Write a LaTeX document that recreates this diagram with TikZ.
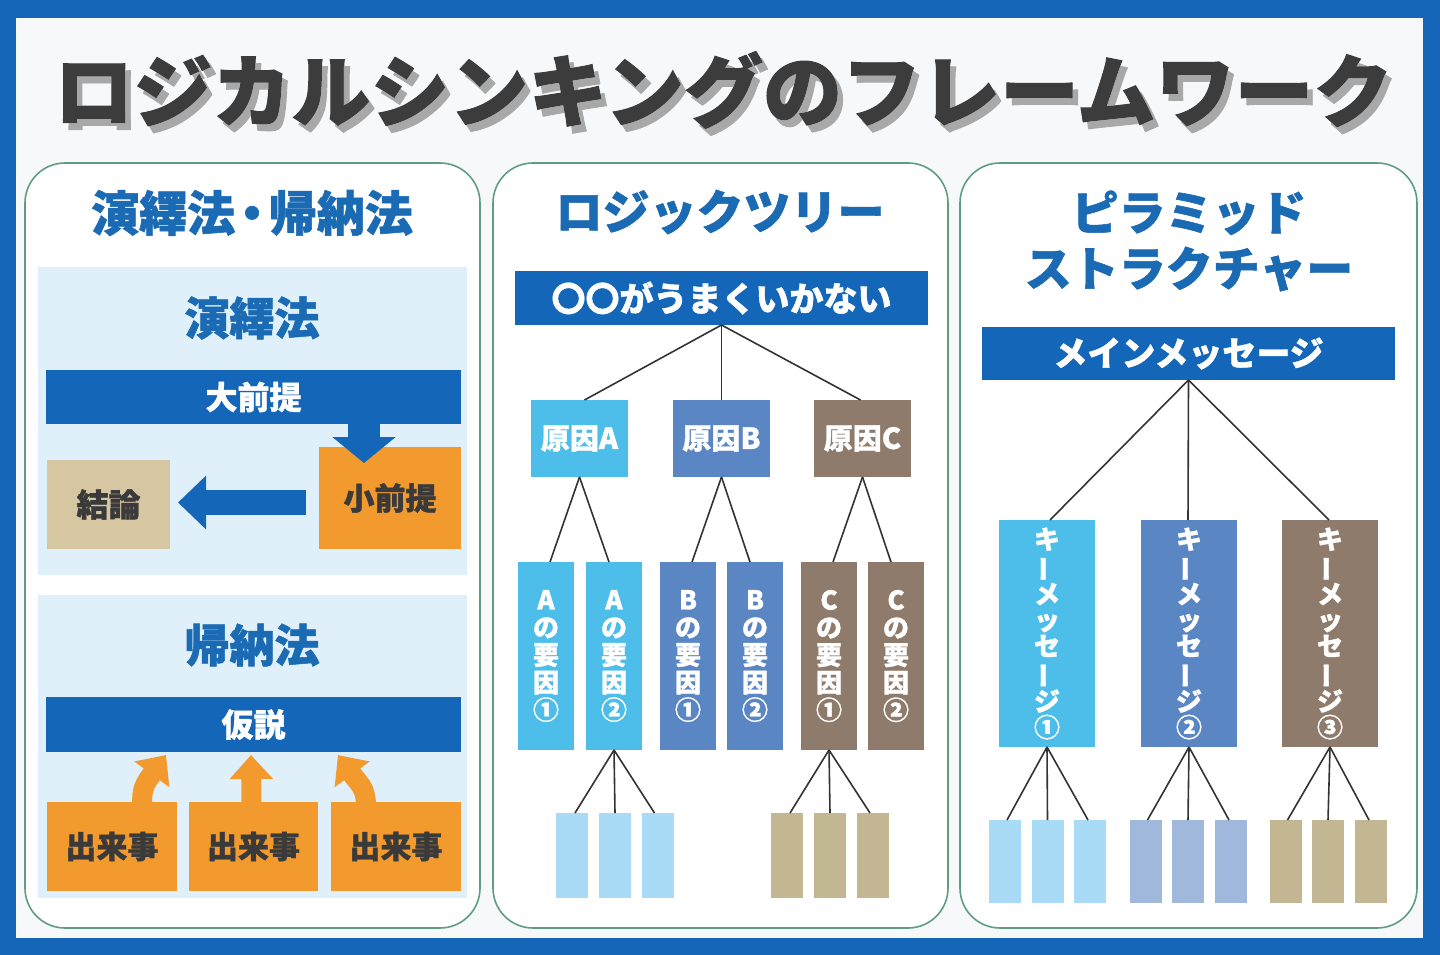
\documentclass[tikz,border=0pt]{standalone}
\usepackage{fontspec}
\usepackage{graphicx}
\setmainfont{Noto Sans CJK JP}[BoldFeatures={FakeBold=1.2}]
\usetikzlibrary{arrows.meta,calc}
\definecolor{frameblue}{HTML}{1566B9}
\definecolor{bgwhite}{HTML}{F6F8F9}
\definecolor{panelgreen}{HTML}{5F9C82}
\definecolor{headblue}{HTML}{1B6AB4}
\definecolor{barblue}{HTML}{1466B8}
\definecolor{sectblue}{HTML}{DFF0FA}
\definecolor{orangebox}{HTML}{F29A2E}
\definecolor{beige}{HTML}{D7C6A2}
\definecolor{textdark}{HTML}{3A3A3A}
\definecolor{titledark}{HTML}{3C3C3C}
\definecolor{shadowgrey}{HTML}{A8A8A8}
\definecolor{skyc}{HTML}{4DBDEA}
\definecolor{midc}{HTML}{5B86C4}
\definecolor{brownc}{HTML}{8F7B6B}
\definecolor{skyl}{HTML}{A9DBF6}
\definecolor{midl}{HTML}{9FB8DC}
\definecolor{tanl}{HTML}{C3B693}
\definecolor{linec}{HTML}{333333}
\newcommand\vbar{\rotatebox[origin=c]{90}{ー}}
\newcommand\titlestr{ロジカルシンキングのフレームワーク}
\begin{document}
\begin{tikzpicture}[x=1pt,y=-1pt,
  every node/.style={inner sep=0pt, outer sep=0pt},
  titletext/.style={font=\bfseries\fontsize{79}{79}\selectfont},
  panel/.style={draw=panelgreen, line width=1.6pt, fill=white, rounded corners=40pt},
  heading/.style={text=headblue, font=\bfseries\fontsize{47}{56}\selectfont, align=center},
  subhead/.style={text=headblue, font=\bfseries\fontsize{45}{45}\selectfont},
  sect/.style={fill=sectblue},
  barbox/.style={fill=barblue, text=white, font=\bfseries\fontsize{32}{32}\selectfont},
  obox/.style={fill=orangebox, text=textdark, font=\bfseries\fontsize{31}{31}\selectfont},
  cause/.style={text=white, font=\bfseries\fontsize{29}{29}\selectfont, minimum width=97pt, minimum height=77pt},
  factor/.style={text=white, font=\bfseries\fontsize{26}{27.5}\selectfont, align=center, minimum width=56pt, minimum height=188pt},
  keybox/.style={text=white, font=\bfseries\fontsize{26}{26}\selectfont, align=center, minimum width=96pt, minimum height=227pt},
  leaf/.style={minimum width=32pt, minimum height=85pt},
  leafr/.style={minimum width=32pt, minimum height=83pt},
  conn/.style={draw=linec, line width=1.6pt},
  bluearrow/.style={draw=barblue, line width=25pt, -{Triangle[width=52pt,length=28pt]}},
  orarrow/.style={draw=orangebox, line width=20pt, -{Triangle[width=42pt,length=24pt]}}
]
\useasboundingbox (0,0) rectangle (1440,955);
% frame and background
\fill[frameblue] (0,0) rectangle (1440,955);
\fill[bgwhite] (16,18) rectangle (1423,938);

% title: grey shadow, white outline, dark fill
\node[titletext, text=shadowgrey] (tshadow) at (729,97) {\special{pdf:literal direct 2 Tr 3 w 1 j 0.66 0.66 0.66 RG}\titlestr\special{pdf:literal direct 0 Tr}};
\node[titletext, text=white] (toutline) at (723.5,90) {\special{pdf:literal direct 2 Tr 9 w 1 j 1 1 1 RG}\titlestr\special{pdf:literal direct 0 Tr}};
\node[titletext, text=titledark] (title) at (723.5,90) {\titlestr};

% panels
\draw[panel] (25,163) rectangle (480,928);
\draw[panel] (493,163) rectangle (948,928);
\draw[panel] (960,163) rectangle (1417,928);

% ===== Left panel =====
\node[heading, font=\bfseries\fontsize{48}{56}\selectfont] (h1) at (252,213) {演繹法\hspace{-0.15em}・\hspace{-0.15em}帰納法};
\node[sect, minimum width=429pt, minimum height=308pt] (s1) at (252.5,421) {};
\node[sect, minimum width=429pt, minimum height=303pt] (s2) at (252.5,746.5) {};
\node[subhead] (en) at (252,318) {演繹法};
\node[barbox, minimum width=415pt, minimum height=54pt] (daizen) at (253.5,397) {大前提};
\node[obox, minimum width=142pt, minimum height=102pt] (shozen) at (390,498) {小前提};
\node[fill=beige, text=textdark, font=\bfseries\fontsize{32}{32}\selectfont, minimum width=123pt, minimum height=89pt] (ketsu) at (108.5,504.5) {結論};
\coordinate (dtip) at (364,463);
\draw[draw=barblue, line width=32pt, -{Triangle[width=62pt,length=26pt]}] (daizen.south -| dtip) -- (dtip);
\draw[bluearrow] ($(shozen.west |- ketsu.east)+(-13,-2)$) -- ($(ketsu.east)+(8,-2)$);

\node[subhead] (ki) at (252,645) {帰納法};
\node[barbox, minimum width=415pt, minimum height=55pt] (kasetsu) at (253.5,724.5) {仮説};
\node[obox, minimum width=130pt, minimum height=89pt] (e1) at (112,846.5) {出来事};
\node[obox, minimum width=129pt, minimum height=89pt] (e2) at (253.5,846.5) {出来事};
\node[obox, minimum width=130pt, minimum height=89pt] (e3) at (396,846.5) {出来事};
\coordinate (t1) at (166,755);
\coordinate (t2) at (251,755);
\coordinate (t3) at (338,755);
\draw[orarrow] ($(e1.north)+(30,4)$) .. controls ($(e1.north)+(30,-14)$) and (144,785) .. (t1);
\draw[orarrow] ($(e2.north)+(-2,4)$) -- (t2);
\draw[orarrow] ($(e3.north)+(-30,4)$) .. controls ($(e3.north)+(-30,-14)$) and (360,785) .. (t3);

% ===== Middle panel =====
\node[heading] (h2) at (720,212) {ロジックツリー};
\node[barbox, font=\bfseries\fontsize{34}{34}\selectfont, minimum width=413pt, minimum height=54pt] (tbar) at (721.5,298) {〇〇がうまくいかない};
\node[cause, fill=skyc] (ca) at (579.5,438.5) {原因A};
\node[cause, fill=midc] (cb) at (721.5,438.5) {原因B};
\node[cause, fill=brownc] (cc) at (862.5,438.5) {原因C};
\draw[conn] (tbar.south) -- ($(ca.north)+(5,0)$);
\draw[conn] (tbar.south) -- (cb.north);
\draw[conn] (tbar.south) -- ($(cc.north)+(-2,0)$);

\node[factor, fill=skyc] (a1) at (546,656) {A\\の\\要\\因\\①};
\node[factor, fill=skyc] (a2) at (614,656) {A\\の\\要\\因\\②};
\node[factor, fill=midc] (b1) at (688,656) {B\\の\\要\\因\\①};
\node[factor, fill=midc] (b2) at (755,656) {B\\の\\要\\因\\②};
\node[factor, fill=brownc] (c1) at (829,656) {C\\の\\要\\因\\①};
\node[factor, fill=brownc] (c2) at (896,656) {C\\の\\要\\因\\②};
\draw[conn] (ca.south) -- ($(a1.north)+(4,0)$);
\draw[conn] (ca.south) -- ($(a2.north)+(-5,0)$);
\draw[conn] (cb.south) -- ($(b1.north)+(4,0)$);
\draw[conn] (cb.south) -- ($(b2.north)+(-5,0)$);
\draw[conn] (cc.south) -- ($(c1.north)+(4,0)$);
\draw[conn] (cc.south) -- ($(c2.north)+(-5,0)$);

\node[leaf, fill=skyl] (la1) at (572,855.5) {};
\node[leaf, fill=skyl] (la2) at (615,855.5) {};
\node[leaf, fill=skyl] (la3) at (657.5,855.5) {};
\node[leaf, fill=tanl] (lc1) at (787,855.5) {};
\node[leaf, fill=tanl] (lc2) at (830,855.5) {};
\node[leaf, fill=tanl] (lc3) at (873,855.5) {};
\draw[conn] (a2.south) -- ($(la1.north)+(3,0)$);
\draw[conn] (a2.south) -- (la2.north);
\draw[conn] (a2.south) -- ($(la3.north)+(-3,0)$);
\draw[conn] (c1.south) -- ($(lc1.north)+(3,0)$);
\draw[conn] (c1.south) -- (lc2.north);
\draw[conn] (c1.south) -- ($(lc3.north)+(-3,0)$);

% ===== Right panel =====
\node[heading] (h3) at (1189,241) {ピラミッド\\ストラクチャー};
\node[barbox, font=\bfseries\fontsize{34}{34}\selectfont, minimum width=413pt, minimum height=53pt] (pbar) at (1188.5,353.5) {メインメッセージ};
\node[keybox, fill=skyc] (k1) at (1047,633.5) {キ\\\vbar\\メ\\ッ\\セ\\\vbar\\ジ\\①};
\node[keybox, fill=midc] (k2) at (1189,633.5) {キ\\\vbar\\メ\\ッ\\セ\\\vbar\\ジ\\②};
\node[keybox, fill=brownc] (k3) at (1330,633.5) {キ\\\vbar\\メ\\ッ\\セ\\\vbar\\ジ\\③};
\draw[conn] (pbar.south) -- ($(k1.north)+(3,0)$);
\draw[conn] (pbar.south) -- ($(k2.north)+(-1,0)$);
\draw[conn] (pbar.south) -- ($(k3.north)+(-1,0)$);

\node[leafr, fill=skyl] (p11) at (1005,861.5) {};
\node[leafr, fill=skyl] (p12) at (1047.5,861.5) {};
\node[leafr, fill=skyl] (p13) at (1090,861.5) {};
\node[leafr, fill=midl] (p21) at (1145.5,861.5) {};
\node[leafr, fill=midl] (p22) at (1188,861.5) {};
\node[leafr, fill=midl] (p23) at (1231,861.5) {};
\node[leafr, fill=tanl] (p31) at (1285.5,861.5) {};
\node[leafr, fill=tanl] (p32) at (1328,861.5) {};
\node[leafr, fill=tanl] (p33) at (1371,861.5) {};
\foreach \k/\a/\b/\c in {k1/p11/p12/p13, k2/p21/p22/p23, k3/p31/p32/p33}{
  \draw[conn] (\k.south) -- ($(\a.north)+(2,0)$);
  \draw[conn] (\k.south) -- (\b.north);
  \draw[conn] (\k.south) -- ($(\c.north)+(-2,0)$);
}
\end{tikzpicture}
\end{document}
